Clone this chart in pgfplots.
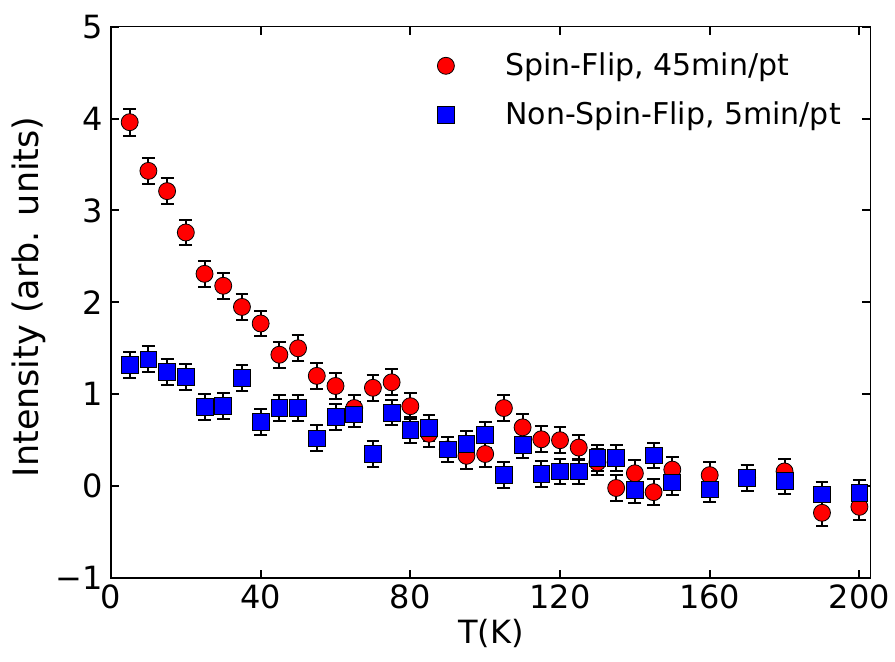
\documentclass[border=0pt]{standalone}
\usepackage{fontspec}
\setmainfont{DejaVu Sans}
\usepackage{pgfplots}
\pgfplotsset{compat=1.18}
\usepackage{pgfplotstable}

\pgfplotstableread{
x y e
5 3.96 0.145
10 3.43 0.14
15 3.21 0.14
20 2.76 0.14
25 2.31 0.14
30 2.18 0.14
35 1.95 0.14
40 1.77 0.14
45 1.43 0.14
50 1.50 0.14
55 1.20 0.14
60 1.09 0.14
65 0.85 0.14
70 1.07 0.14
75 1.13 0.14
80 0.87 0.14
85 0.57 0.14
90 0.40 0.14
95 0.33 0.14
100 0.35 0.14
105 0.85 0.14
110 0.64 0.14
115 0.51 0.14
120 0.50 0.14
125 0.42 0.14
130 0.26 0.14
135 -0.02 0.14
140 0.14 0.14
145 -0.065 0.14
150 0.18 0.14
160 0.12 0.14
170 0.09 0.14
180 0.16 0.14
190 -0.29 0.14
200 -0.225 0.14
}\sfdata

\pgfplotstableread{
x y e
5 1.32 0.14
10 1.38 0.14
15 1.24 0.14
20 1.19 0.14
25 0.86 0.14
30 0.87 0.14
35 1.18 0.14
40 0.70 0.14
45 0.85 0.14
50 0.85 0.14
55 0.52 0.14
60 0.75 0.14
65 0.78 0.14
70 0.35 0.14
75 0.80 0.14
80 0.61 0.14
85 0.63 0.14
90 0.40 0.14
95 0.46 0.14
100 0.56 0.14
105 0.12 0.14
110 0.45 0.14
115 0.135 0.14
120 0.16 0.14
125 0.16 0.14
130 0.31 0.14
135 0.31 0.14
140 -0.04 0.14
145 0.335 0.14
150 0.04 0.14
160 -0.035 0.14
170 0.09 0.14
180 0.06 0.14
190 -0.09 0.14
200 -0.07 0.14
}\nsfdata

\begin{document}
\begin{tikzpicture}
\begin{axis}[
  scale only axis, width=379.9pt, height=275.8pt,
  xmin=0, xmax=203, ymin=-1, ymax=5,
  clip=false,
  xtick={0,40,80,120,160,200}, xticklabels={0,40,80,120,160,200},
  ytick={-1,0,1,2,3,4,5}, yticklabels={−1,0,1,2,3,4,5},
  minor tick num=0,
  tick align=inside, major tick length=4.2pt,
  every tick/.style={black, line width=1pt},
  axis line style={line width=0.8pt},
  tick label style={font=\fontsize{16}{19}\selectfont},
  xticklabel style={inner ysep=3.3pt},
  yticklabel style={inner xsep=3.85pt},
  xlabel={T(K)}, ylabel={Intensity (arb. units)},
  xlabel style={font=\fontsize{16}{19}\selectfont, at={(axis description cs:0.5,-0.101)}, anchor=center},
  ylabel style={font=\fontsize{17.5}{21}\selectfont, at={(axis description cs:-0.108,0.51)}, anchor=center},
  legend style={draw=none, fill=none, at={(rel axis cs:0.428,0.953)}, anchor=north west,
    font=\fontsize{15}{18}\selectfont, inner sep=0pt, row sep=11.5pt,
    nodes={inner sep=0pt}},
  legend cell align=left,
  legend image code/.code={\draw[#1] plot coordinates {(0pt,0pt)}; \path (-4.5pt,0pt) (29.5pt,0pt);},
]
\addplot[only marks, mark=*, mark size=4.25pt,
  mark options={fill=red, draw=black, line width=0.4pt},
  error bars/.cd, y dir=both, y explicit,
  error bar style={black, line width=1pt},
  error mark options={rotate=90, black, mark size=3.2pt, line width=1pt}]
  table[x=x, y=y, y error=e] {\sfdata};
\addlegendentry{Spin-Flip, 45min/pt}
\addplot[only marks, mark=square*, mark size=4.2pt,
  mark options={fill=blue, draw=black, line width=0.4pt},
  error bars/.cd, y dir=both, y explicit,
  error bar style={black, line width=1pt},
  error mark options={rotate=90, black, mark size=3.2pt, line width=1pt}]
  table[x=x, y=y, y error=e] {\nsfdata};
\addlegendentry{Non-Spin-Flip, 5min/pt}
\end{axis}
\pgfresetboundingbox
\path[use as bounding box] ([xshift=-55.5pt,yshift=-41.9pt]current axis.south west) rectangle ([xshift=12.2pt,yshift=13.3pt]current axis.north east);
\end{tikzpicture}
\end{document}
